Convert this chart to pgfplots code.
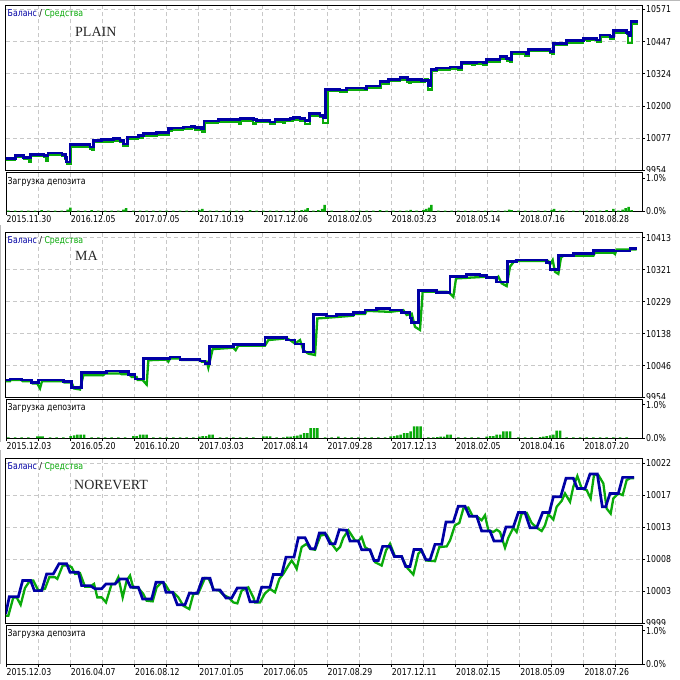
\documentclass[border=0pt]{standalone}
\usepackage{fontspec}
\setmainfont{DejaVu Sans}[FakeStretch=0.82]
\newfontfamily\seriffont{Liberation Serif}
\usepackage{pgfplots}
\pgfplotsset{compat=1.18}
\definecolor{balblue}{RGB}{0,0,165}
\definecolor{eqgreen}{RGB}{10,170,10}
\definecolor{gridgray}{RGB}{200,200,200}
\newcommand{\tf}{\fontsize{9.5}{11}\selectfont}
\pgfplotsset{
  mtbase/.style={
    scale only axis, width=636pt, xmin=18, xmax=1926,
    scaled x ticks=false, scaled y ticks=false,
    axis line style={black, line width=1pt},
    xtick={18,114.3,210.6,306.9,403.2,499.5,595.8,692.1,788.4,884.7,981,1077.3,1173.6,1269.9,1366.2,1462.5,1558.8,1655.1,1751.4,1847.7},
    xmajorgrids=true,
    grid style={gridgray, line width=1pt, dash pattern=on 4pt off 3pt},
    tick align=outside, major tick length=3pt,
    tick style={black, line width=1pt},
    ytick pos=right, yticklabel pos=right,
    yticklabel style={font=\tf, anchor=west, inner sep=0pt, xshift=1pt},
  },
  mtmain/.style={mtbase, height=165.5pt, ymajorgrids=true, xticklabels={}, xtick style={draw=none}},
  mtsub/.style={mtbase, height=39pt, ymin=0, ymax=1.18, ytick={0,1}, yticklabels={0.0\%,1.0\%},
    xtick pos=bottom, xticklabel style={font=\tf, anchor=north west, inner sep=0pt, xshift=0.5pt, yshift=-1pt}},
  eqline/.style={eqgreen, line width=2.3pt},
  balline/.style={balblue, line width=2.7pt},
  loadbar/.style={ybar, bar width=7.5, fill=eqgreen, draw=none},
}
\begin{document}
\begin{tikzpicture}
\fill[white] (0,0) rectangle (680pt,-680pt);
\path[use as bounding box] (0,0) rectangle (680pt,-680pt);
\draw[gray!55, line width=1pt] (0,-0.5pt) -- (680pt,-0.5pt);
\draw[gray!55, line width=1pt] (0.5pt,-225pt) -- (0.5pt,-442pt);
\draw[gray!55, line width=1pt] (0.5pt,-450pt) -- (0.5pt,-664pt);

% ================= PANEL 1 : PLAIN =================
\begin{axis}[mtmain, at={(6pt,-5pt)}, anchor=north west,
  ymin=9954, ymax=10588.3,
  ytick={9954,10077.4,10200.8,10324.2,10447.6,10571},
  yticklabels={9954,10077,10200,10324,10447,10571}]
\addplot[eqline, const plot] coordinates {
(15,9994) (46,10005) (71,9998) (86,9986) (92,10009) (132,10005) (138,9990) (144,10014)
(186,10009) (196,9998) (200,9980) (212,10046) (270,10037) (276,10035) (282,10062)
(305,10065) (340,10069) (360,10062) (370,10049) (385,10075) (415,10081) (430,10088)
(470,10092) (507,10107) (515,10110) (550,10114) (575,10116) (585,10111) (605,10104)
(615,10137) (655,10142) (718,10133) (724,10146) (760,10134) (768,10139) (810,10133)
(825,10142) (848,10136) (854,10146) (880,10149) (900,10146) (915,10131) (930,10165)
(960,10158) (970,10136) (983,10258) (1020,10255) (1040,10263) (1090,10262) (1102,10271)
(1135,10270) (1142,10288) (1167,10297) (1200,10303) (1222,10295) (1228,10290) (1234,10295)
(1265,10293) (1275,10306) (1285,10264) (1295,10335) (1310,10340) (1350,10344) (1375,10340)
(1387,10361) (1415,10360) (1425,10363) (1450,10360) (1455,10358) (1462,10372) (1500,10383)
(1520,10376) (1530,10370) (1537,10401) (1575,10394) (1587,10412) (1650,10404) (1655,10400)
(1662,10434) (1700,10444) (1750,10453) (1760,10451) (1770,10453) (1790,10447) (1802,10466)
(1830,10460) (1842,10483) (1880,10476) (1885,10443) (1895,10517) (1915,10517)};
\addplot[balline, const plot] coordinates {
(15,10001) (46,10012) (71,10005) (91,10016) (132,10012) (144,10021) (186,10016) (196,10005)
(200,9986) (210,10053) (270,10044) (280,10069) (305,10072) (340,10076) (360,10069)
(370,10056) (383,10082) (415,10088) (430,10095) (470,10099) (505,10114) (515,10117)
(550,10121) (575,10123) (585,10118) (605,10114) (612,10144) (655,10149) (720,10153)
(760,10150) (770,10146) (810,10140) (825,10149) (870,10153) (880,10156) (900,10153)
(915,10146) (928,10172) (960,10165) (970,10156) (977,10265) (1020,10262) (1040,10270)
(1095,10268) (1100,10278) (1140,10295) (1165,10304) (1200,10310) (1222,10302) (1265,10300)
(1285,10281) (1293,10342) (1310,10347) (1350,10351) (1375,10347) (1385,10368) (1430,10370)
(1450,10367) (1460,10379) (1500,10390) (1520,10383) (1530,10377) (1535,10408) (1580,10402)
(1585,10419) (1650,10411) (1660,10441) (1700,10451) (1750,10460) (1790,10454) (1800,10473)
(1830,10467) (1840,10490) (1880,10483) (1885,10477) (1889,10469) (1893,10524) (1915,10524)};
\end{axis}
\fill[white] (643pt,-171.5pt) rectangle (680pt,-175pt);
\begin{axis}[mtsub, at={(6pt,-172.5pt)}, anchor=north west,
  xticklabels={2015.11.30,,2016.12.05,,2017.07.05,,2017.10.19,,2017.12.06,,2018.02.05,,2018.03.23,,2018.05.14,,2018.07.16,,2018.08.28,}]
\addplot[loadbar] coordinates {
(25,0.03) (45,0.03) (65,0.03) (85,0.03) (105,0.03) (125,0.04) (145,0.03) (165,0.03) (185,0.03)
(203,0.06) (211,0.12) (235,0.03) (255,0.03) (275,0.04) (295,0.03) (315,0.03) (335,0.03)
(355,0.03) (370,0.06) (378,0.1) (400,0.03) (420,0.03) (440,0.03) (460,0.03) (480,0.03)
(500,0.03) (520,0.03) (540,0.03) (560,0.03) (580,0.03) (598,0.05) (607,0.08) (630,0.03)
(650,0.03) (670,0.03) (690,0.03) (710,0.03) (730,0.03) (750,0.04) (770,0.03) (790,0.03)
(810,0.03) (830,0.03) (850,0.03) (870,0.03) (890,0.03) (905,0.04) (915,0.06) (923,0.1)
(940,0.03) (955,0.04) (966,0.08) (974,0.2) (995,0.03) (1040,0.03) (1060,0.03) (1080,0.03)
(1100,0.03) (1120,0.03) (1140,0.04) (1160,0.03) (1180,0.03) (1200,0.03) (1220,0.03)
(1232,0.05) (1250,0.03) (1270,0.04) (1278,0.08) (1287,0.12) (1294,0.2) (1315,0.03)
(1335,0.03) (1355,0.03) (1375,0.03) (1395,0.03) (1415,0.03) (1435,0.03) (1455,0.03)
(1475,0.03) (1495,0.03) (1515,0.03) (1527,0.06) (1535,0.04) (1555,0.03) (1575,0.03)
(1595,0.03) (1615,0.03) (1635,0.03) (1655,0.05) (1662,0.08) (1680,0.03) (1700,0.03)
(1720,0.03) (1740,0.03) (1760,0.03) (1780,0.03) (1800,0.03) (1820,0.04) (1840,0.08)
(1855,0.03) (1868,0.06) (1877,0.1) (1886,0.14) (1895,0.04)};
\end{axis}

% ================= PANEL 2 : MA =================
\begin{axis}[mtmain, at={(6pt,-232pt)}, anchor=north west,
  ymin=9954, ymax=10429.4,
  ytick={9954,10045.8,10137.6,10229.4,10321.2,10413},
  yticklabels={9954,10046,10138,10229,10321,10413}]
\addplot[eqline] coordinates {
(15,10001) (30,10001) (32,10004) (65,10004) (68,10001) (95,10001) (98,9994) (112,9994)
(120,9980) (126,10001) (190,10001) (193,9997) (215,9997) (222,9980) (240,9977) (250,10018)
(310,10018) (315,10023) (360,10023) (365,10021) (385,10021) (390,10018) (395,10013)
(410,10013) (413,10004) (428,10004) (440,9991) (445,10061) (500,10063) (505,10057)
(510,10066) (540,10066) (545,10062) (600,10062) (605,10057) (620,10057) (625,10039)
(638,10093) (700,10097) (707,10090) (715,10103) (795,10103) (805,10119) (860,10124)
(870,10119) (885,10109) (900,10119) (910,10090) (925,10080) (945,10076) (952,10181)
(1020,10186) (1060,10189) (1063,10194) (1095,10194) (1100,10203) (1170,10200) (1210,10205)
(1220,10191) (1235,10195) (1245,10157) (1260,10148) (1268,10258) (1340,10258) (1350,10253)
(1360,10243) (1368,10296) (1460,10301) (1490,10296) (1495,10301) (1505,10282) (1520,10274)
(1530,10330) (1540,10342) (1545,10346) (1645,10346) (1650,10336) (1658,10349) (1665,10315)
(1675,10309) (1683,10356) (1690,10361) (1780,10361) (1785,10370) (1840,10370) (1845,10366)
(1850,10379) (1910,10379)};
\addplot[balline, const plot] coordinates {
(15,10004) (30,10007) (65,10004) (95,9997) (115,10004) (190,9999) (215,9982) (245,10025)
(320,10030) (360,10028) (385,10020) (405,10007) (430,10066) (510,10070) (540,10064)
(600,10059) (615,10052) (628,10100) (700,10107) (795,10126) (860,10119) (885,10108)
(910,10085) (940,10193) (980,10188) (1010,10193) (1060,10198) (1095,10205) (1130,10210)
(1170,10205) (1205,10198) (1230,10182) (1235,10169) (1255,10262) (1310,10255) (1350,10301)
(1400,10308) (1440,10304) (1460,10299) (1490,10286) (1523,10344) (1550,10349) (1640,10342)
(1650,10322) (1675,10361) (1720,10367) (1780,10376) (1840,10375) (1890,10382) (1910,10382)};
\end{axis}
\fill[white] (643pt,-398.5pt) rectangle (680pt,-402pt);
\begin{axis}[mtsub, at={(6pt,-399pt)}, anchor=north west,
  xticklabels={2015.12.03,,2016.05.20,,2016.10.20,,2017.03.03,,2017.08.14,,2017.09.28,,2017.12.13,,2018.02.05,,2018.04.16,,2018.07.20,}]
\addplot[loadbar] coordinates {
(25,0.02) (45,0.02) (65,0.02) (85,0.02) (112,0.05) (120,0.05) (128,0.05) (150,0.02) (170,0.02)
(190,0.02) (212,0.06) (222,0.08) (232,0.1) (242,0.1) (252,0.1) (275,0.02) (295,0.02) (315,0.02)
(335,0.02) (355,0.02) (375,0.02) (400,0.06) (410,0.06) (420,0.1) (430,0.1) (440,0.1) (460,0.02)
(480,0.02) (500,0.02) (520,0.02) (540,0.02) (560,0.02) (580,0.02) (598,0.04) (608,0.06)
(618,0.06) (628,0.1) (638,0.1) (660,0.02) (680,0.02) (700,0.02) (720,0.02) (740,0.02)
(760,0.02) (790,0.05) (800,0.05) (810,0.05) (830,0.02) (850,0.02) (862,0.04) (872,0.04)
(882,0.06) (892,0.07) (902,0.1) (912,0.15) (922,0.15) (932,0.3) (942,0.3) (952,0.3) (975,0.02)
(995,0.02) (1015,0.04) (1035,0.02) (1055,0.02) (1075,0.02) (1095,0.02) (1115,0.02) (1135,0.02)
(1155,0.02) (1172,0.05) (1182,0.06) (1192,0.08) (1202,0.1) (1212,0.15) (1222,0.15) (1232,0.2)
(1242,0.35) (1252,0.35) (1262,0.35) (1285,0.02) (1300,0.02) (1312,0.03) (1322,0.04) (1332,0.04)
(1342,0.1) (1352,0.1) (1375,0.02) (1395,0.02) (1415,0.02) (1435,0.02) (1460,0.04) (1470,0.06)
(1480,0.06) (1490,0.1) (1500,0.1) (1510,0.2) (1520,0.2) (1530,0.2) (1555,0.02) (1575,0.02)
(1595,0.02) (1620,0.03) (1630,0.04) (1640,0.06) (1650,0.08) (1660,0.1) (1670,0.22) (1680,0.22)
(1700,0.02) (1720,0.02) (1740,0.02) (1760,0.02) (1780,0.02) (1800,0.02) (1820,0.02) (1840,0.02)
(1860,0.02) (1880,0.02)};
\end{axis}

% ================= PANEL 3 : NOREVERT =================
\begin{axis}[mtmain, at={(6pt,-458pt)}, anchor=north west,
  ymin=9999, ymax=10022.76,
  ytick={9999,10003.6,10008.2,10012.8,10017.4,10022},
  yticklabels={9999,10003,10008,10013,10017,10022}]
\addplot[eqline] coordinates {
(17,10000.11) (25,10000.11) (40,10002.75) (50,10002.75) (62,10001.69) (75,10004.10)
(90,10005.16) (100,10005.16) (115,10003.72) (135,10003.99) (148,10005.64) (165,10005.64)
(172,10005.40) (188,10007.32) (205,10007.32) (215,10007.08) (225,10006.12) (240,10006.22)
(255,10004.29) (270,10004.29) (282,10004.68) (292,10002.75) (305,10002.75) (318,10002.03)
(335,10004.68) (345,10004.68) (355,10005.64) (368,10002.75) (380,10005.16) (390,10005.88)
(400,10004.10) (415,10004.10) (430,10003.23) (440,10002.27) (458,10002.18) (470,10004.20)
(485,10004.92) (495,10004.68) (510,10003.48) (520,10003.48) (535,10002.75) (550,10001.55)
(568,10001.07) (580,10003.23) (595,10003.33) (615,10005.54) (625,10005.50) (642,10003.81)
(655,10003.81) (670,10003.14) (685,10002.75) (700,10002.03) (712,10001.89) (725,10003.72)
(745,10004.20) (760,10002.75) (765,10002.03) (780,10002.03) (795,10003.33) (810,10003.96)
(825,10003.48) (838,10005.40) (850,10006.12) (865,10007.32) (875,10008.05) (885,10007.32)
(890,10006.84) (905,10009.97) (920,10010.45) (930,10009.73) (945,10009.59) (962,10011.66)
(980,10011.75) (995,10010.45) (1010,10009.49) (1020,10009.97) (1030,10011.32) (1045,10012.38)
(1055,10011.66) (1065,10010.93) (1075,10010.84) (1085,10011.41) (1095,10009.97) (1110,10009.49)
(1125,10007.81) (1145,10007.32) (1158,10009.49) (1170,10010.45) (1185,10008.62) (1205,10008.62)
(1220,10007.08) (1240,10006.03) (1255,10009.01) (1265,10009.49) (1278,10008.05) (1305,10007.95)
(1318,10009.97) (1340,10010.07) (1350,10010.93) (1365,10013.10) (1378,10013.44) (1390,10015.50)
(1405,10015.65) (1418,10014.40) (1430,10014.40) (1445,10013.82) (1455,10014.54) (1465,10012.38)
(1480,10012.14) (1490,10012.47) (1500,10012.14) (1515,10009.88) (1525,10011.32) (1540,10012.76)
(1550,10012.14) (1565,10014.78) (1580,10014.88) (1595,10013.44) (1610,10012.76) (1625,10012.28)
(1635,10013.10) (1645,10014.69) (1660,10013.92) (1670,10015.75) (1685,10016.61) (1695,10017.67)
(1710,10016.47) (1720,10018.63) (1732,10020.17) (1745,10018.39) (1760,10018.15) (1772,10016.95)
(1782,10020.32) (1795,10020.32) (1810,10019.11) (1820,10015.50) (1832,10014.78) (1840,10016.95)
(1855,10017.67) (1868,10017.43) (1880,10019.60) (1890,10019.84) (1902,10019.84)};
\addplot[balline] coordinates {
(17,10000.35) (28,10002.85) (55,10002.85) (68,10005.16) (92,10005.16) (103,10003.72)
(125,10003.72) (140,10006.12) (160,10006.12) (177,10007.57) (200,10007.57) (210,10006.36)
(235,10006.36) (245,10004.44) (270,10004.44) (285,10003.99) (305,10003.99) (318,10004.68)
(345,10004.68) (360,10005.40) (380,10005.40) (392,10004.20) (415,10004.20) (428,10002.51)
(455,10002.51) (468,10004.92) (490,10004.92) (498,10003.48) (518,10003.48) (532,10001.69)
(555,10001.69) (568,10003.33) (592,10003.33) (608,10005.50) (630,10005.50) (640,10003.81)
(660,10003.81) (678,10002.66) (695,10002.66) (712,10004.10) (738,10004.10) (750,10002.13)
(772,10002.13) (785,10004.20) (810,10004.20) (820,10006.03) (845,10006.03) (858,10008.53)
(882,10008.53) (895,10011.32) (915,10011.32) (932,10009.73) (945,10009.73) (958,10011.99)
(975,10011.99) (990,10010.45) (1005,10010.45) (1018,10012.47) (1040,10012.38) (1050,10010.84)
(1075,10010.84) (1085,10009.59) (1110,10009.59) (1122,10008.05) (1135,10008.05) (1148,10010.07)
(1170,10010.07) (1183,10008.62) (1205,10008.62) (1217,10007.18) (1230,10007.18) (1242,10009.63)
(1263,10009.63) (1278,10008.14) (1290,10008.14) (1305,10010.36) (1325,10010.36) (1338,10013.58)
(1360,10013.58) (1375,10015.84) (1395,10015.84) (1408,10014.40) (1430,10014.40) (1445,10012.28)
(1470,10012.28) (1482,10010.84) (1505,10010.84) (1518,10012.86) (1540,10012.86) (1555,10014.93)
(1575,10014.93) (1590,10012.76) (1610,10012.76) (1628,10014.93) (1648,10014.93) (1660,10017.19)
(1682,10017.19) (1698,10019.84) (1720,10019.84) (1732,10018.39) (1755,10018.39) (1770,10020.46)
(1792,10020.46) (1807,10015.75) (1817,10015.75) (1830,10017.67) (1855,10017.67) (1868,10019.98)
(1902,10019.98)};
\end{axis}
\fill[white] (643pt,-624.5pt) rectangle (680pt,-628pt);
\begin{axis}[mtsub, at={(6pt,-625pt)}, anchor=north west,
  xticklabels={2015.12.03,,2016.04.07,,2016.08.12,,2017.01.05,,2017.06.05,,2017.08.29,,2017.12.11,,2018.02.15,,2018.05.09,,2018.07.26,}]
\addplot[draw=none] coordinates {(18,0) (1926,0)};
\end{axis}

% ================= texts =================
\node[anchor=west, inner sep=0pt, font=\tf] at (7.5pt,-14pt) {\textcolor{balblue}{Баланс} / \textcolor{eqgreen}{Средства}};
\node[anchor=west, inner sep=0pt, font=\tf] at (7.5pt,-240.5pt) {\textcolor{balblue}{Баланс} / \textcolor{eqgreen}{Средства}};
\node[anchor=west, inner sep=0pt, font=\tf] at (7.5pt,-466.5pt) {\textcolor{balblue}{Баланс} / \textcolor{eqgreen}{Средства}};
\node[anchor=west, inner sep=0pt, font=\tf] at (7.5pt,-181.5pt) {Загрузка депозита};
\node[anchor=west, inner sep=0pt, font=\tf] at (7.5pt,-408pt) {Загрузка депозита};
\node[anchor=west, inner sep=0pt, font=\tf] at (7.5pt,-634pt) {Загрузка депозита};
\node[anchor=base west, inner sep=0pt, font=\seriffont\fontsize{14}{16}\selectfont, text=black!85] at (75pt,-36.5pt) {PLAIN};
\node[anchor=base west, inner sep=0pt, font=\seriffont\fontsize{14}{16}\selectfont, text=black!85] at (75pt,-260.5pt) {MA};
\node[anchor=base west, inner sep=0pt, font=\seriffont\fontsize{14}{16}\selectfont, text=black!85] at (74pt,-489pt) {NOREVERT};
\end{tikzpicture}
\end{document}
